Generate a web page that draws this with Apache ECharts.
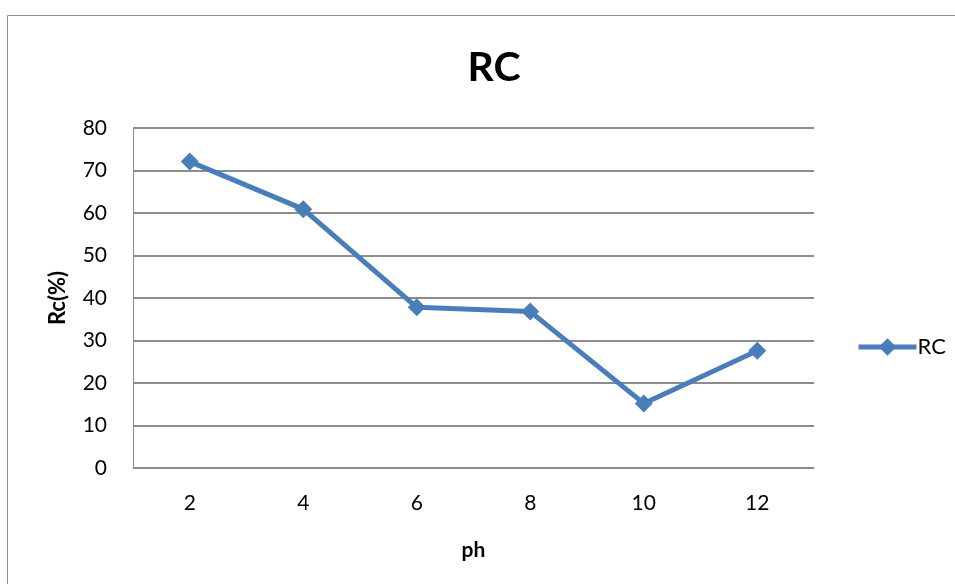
<!DOCTYPE html>
<html>
<head>
<meta charset="utf-8">
<script src="https://cdn.jsdelivr.net/npm/echarts@6/dist/echarts.min.js"></script>
<style>
  html, body { margin: 0; padding: 0; background: #fff; }
  #chart { width: 955px; height: 584px; }
</style>
</head>
<body>
<div id="chart"></div>
<script>
// pH values on the x axis
const categories = ['2', '4', '6', '8', '10', '12'];
// Removal (%) at each pH
const rcValues = [72.1, 60.9, 37.8, 36.8, 15.2, 27.6];
const seriesName = 'RC';
const yTicks = { min: 0, max: 80, interval: 10 };

const FONT = 'Lato, "Open Sans", sans-serif';
const BLUE = '#4a7ebb';

const chart = echarts.init(document.getElementById('chart'), null, { renderer: 'canvas' });
chart.setOption({
  animation: false,
  backgroundColor: '#fff',
  title: {
    text: 'RC',
    left: 489,
    top: 42,
    textAlign: 'center',
    textStyle: { fontFamily: FONT, fontSize: 41, fontWeight: 'bold', color: '#000' }
  },
  graphic: [{
    type: 'rect',
    shape: { x: 7.5, y: 15.5, width: 1200, height: 1200 },
    style: { fill: 'none', stroke: '#8c8c8c', lineWidth: 1 },
    silent: true
  }],
  legend: {
    data: [seriesName],
    left: 851,
    top: 331,
    itemWidth: 58,
    itemHeight: 22,
    itemGap: 2,
    lineStyle: { width: 5, color: BLUE },
    itemStyle: { color: BLUE },
    textStyle: { fontFamily: FONT, fontSize: 22, color: '#000', padding: [0, 0, 0, -4] }
  },
  grid: { left: 133, right: 141, top: 128, bottom: 116, containLabel: false },
  xAxis: {
    type: 'category',
    data: categories,
    boundaryGap: true,
    name: 'ph',
    nameLocation: 'middle',
    nameGap: 72,
    nameTextStyle: { fontFamily: FONT, fontSize: 21, fontWeight: 'bold', color: '#000' },
    axisLine: { show: true, lineStyle: { color: '#8c8c8c', width: 1 } },
    axisTick: { show: false },
    axisLabel: { fontFamily: FONT, fontSize: 21, color: '#000', margin: 25 },
    splitLine: { show: false }
  },
  yAxis: {
    type: 'value',
    min: yTicks.min,
    max: yTicks.max,
    interval: yTicks.interval,
    name: 'Rc(%)',
    nameLocation: 'middle',
    nameGap: 64,
    nameRotate: 90,
    nameTextStyle: { fontFamily: FONT, fontSize: 22, fontWeight: 'bold', color: '#000' },
    axisLine: { show: true, lineStyle: { color: '#8c8c8c', width: 1 } },
    axisTick: { show: false },
    axisLabel: { fontFamily: FONT, fontSize: 21, color: '#000', margin: 26 },
    splitLine: { show: true, lineStyle: { color: '#8c8c8c', width: 2 } }
  },
  series: [{
    name: seriesName,
    type: 'line',
    data: rcValues,
    symbol: 'diamond',
    symbolSize: 18,
    color: BLUE,
    lineStyle: { color: BLUE, width: 5 },
    itemStyle: { color: BLUE }
  }]
});
</script>
</body>
</html>
